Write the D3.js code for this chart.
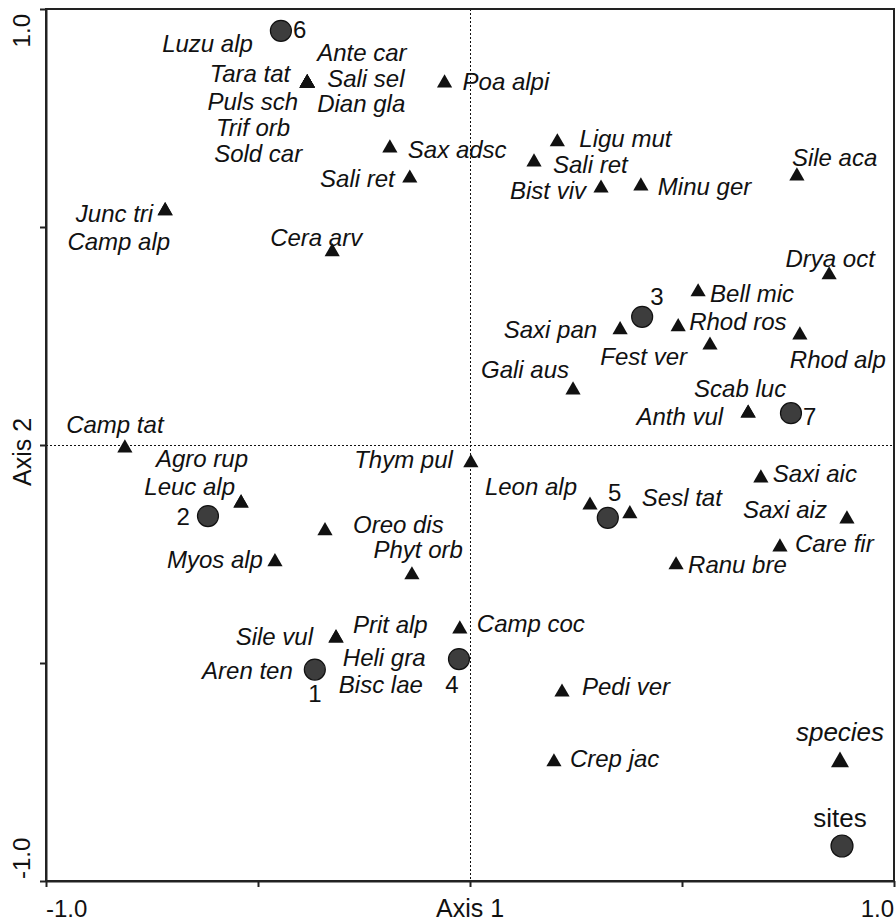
<!DOCTYPE html>
<html>
<head>
<meta charset="utf-8">
<script src="https://cdn.jsdelivr.net/npm/d3@7"></script>
<style>
  body { margin: 0; background: #fff; }
  svg text { font-family: "Liberation Sans", Arial, sans-serif; fill: #111; }
  .sp { font-style: italic; font-size: 24px; }
</style>
</head>
<body>
<div id="chart-area"></div>
<script>
// Site scores (axis 1, axis 2)
var siteIds = ["1", "2", "3", "4", "5", "6", "7"];
var siteX = [-0.366, -0.618, 0.406, -0.026, 0.325, -0.446, 0.757];
var siteY = [-0.515, -0.163, 0.294, -0.491, -0.167, 0.950, 0.073];

// Species scores (species sharing a point get the same scores)
var speciesNames = [
	"Tara tat", "Puls sch", "Trif orb", "Sold car", "Ante car", "Sali sel", "Dian gla",
	"Luzu alp", "Poa alpi", "Sax adsc", "Sali ret", "Ligu mut", "Sali ret", "Bist viv",
	"Minu ger", "Sile aca", "Junc tri", "Camp alp", "Cera arv", "Drya oct", "Bell mic",
	"Saxi pan", "Rhod ros", "Fest ver", "Rhod alp", "Gali aus", "Anth vul", "Scab luc",
	"Camp tat", "Thym pul", "Agro rup", "Leuc alp", "Oreo dis", "Myos alp", "Phyt orb",
	"Sile vul", "Prit alp", "Heli gra", "Bisc lae", "Aren ten", "Camp coc", "Pedi ver",
	"Crep jac", "Leon alp", "Sesl tat", "Saxi aic", "Saxi aiz", "Care fir", "Ranu bre"
];
var speciesX = [
	-0.384, -0.384, -0.384, -0.384, -0.384, -0.384, -0.384,
	-0.446, -0.060, -0.189, -0.142, 0.206, 0.151, 0.309,
	0.403, 0.771, -0.719, -0.719, -0.325, 0.847, 0.538,
	0.354, 0.491, 0.566, 0.778, 0.243, 0.656, 0.656,
	-0.814, 0.002, -0.540, -0.540, -0.342, -0.460, -0.137,
	-0.316, -0.316, -0.366, -0.366, -0.366, -0.024, 0.217,
	0.198, 0.283, 0.377, 0.686, 0.889, 0.731, 0.486
];
var speciesY = [
	0.830, 0.830, 0.830, 0.830, 0.830, 0.830, 0.830,
	0.950, 0.830, 0.681, 0.612, 0.695, 0.649, 0.589,
	0.594, 0.617, 0.537, 0.537, 0.443, 0.390, 0.351,
	0.264, 0.271, 0.229, 0.252, 0.126, 0.073, 0.073,
	-0.007, -0.041, -0.133, -0.133, -0.197, -0.268, -0.298,
	-0.443, -0.443, -0.515, -0.515, -0.515, -0.422, -0.567,
	-0.727, -0.138, -0.158, -0.076, -0.170, -0.234, -0.275
];

// label placement next to each point: [dx, dy, anchor]
var speciesLabelPos = [
	[-17, -1, "end"], [-9, 27, "end"], [-17, 53, "end"], [-5, 79, "end"], [10, -22, "start"], [20, 4, "start"], [10, 29, "start"],
	[-28, 21, "end"], [18, 7, "start"], [18, 10, "start"], [-15, 9, "end"], [22, 5, "start"], [19, 11, "start"], [-15, 11, "end"],
	[17, 9, "start"], [-5, -10, "start"], [-12, 11, "end"], [5, 39, "end"], [30, -6, "end"], [1, -8, "middle"], [12, 10, "start"],
	[-23, 8, "end"], [11, 3, "start"], [-23, 20, "end"], [-10, 33, "start"], [-4, -12, "end"], [-25, 12, "end"], [-8, -16, "middle"],
	[-10, -15, "middle"], [-18, 5, "end"], [7, -36, "end"], [-6, -8, "end"], [28, 2, "start"], [-12, 6, "end"], [51, -17, "end"],
	[-23, 7, "end"], [17, -5, "start"], [28, -4, "start"], [24, 23, "start"], [-22, 9, "end"], [17, 3, "start"], [20, 3, "start"],
	[16, 5, "start"], [-13, -10, "end"], [12, -8, "start"], [12, 4, "start"], [-20, -1, "end"], [15, 5, "start"], [12, 8, "start"]
];
var siteLabelPos = [
	[0, 32, "middle"], [-18, 9, "end"], [8, -12, "start"], [-7, 34, "middle"], [7, -17, "middle"], [12, 7, "start"], [12, 12, "start"]
];

var axisTicks = [-1, -0.5, 0, 0.5, 1];

var width = 896,
	height = 922;
var margin = {top: 9, right: 2, bottom: 41, left: 46};

var svg = d3.select("#chart-area").append("svg")
	.attr("width", width)
	.attr("height", height);

var x = d3.scaleLinear().domain([-1, 1]).range([margin.left, width - margin.right]);
var y = d3.scaleLinear().domain([-1, 1]).range([height - margin.bottom, margin.top]);

var species = speciesNames.map(function(n, i) {
	return {name: n, x: speciesX[i], y: speciesY[i], pos: speciesLabelPos[i]};
});
var sites = siteIds.map(function(n, i) {
	return {name: n, x: siteX[i], y: siteY[i], pos: siteLabelPos[i]};
});

// dotted zero lines
svg.append("line")
	.attr("x1", x(0) + 0.5).attr("x2", x(0) + 0.5)
	.attr("y1", y(1)).attr("y2", y(-1))
	.attr("stroke", "#111").attr("stroke-dasharray", "2,2");
svg.append("line")
	.attr("x1", x(-1)).attr("x2", x(1))
	.attr("y1", y(0) + 0.5).attr("y2", y(0) + 0.5)
	.attr("stroke", "#111").attr("stroke-dasharray", "2,2");

// frame
svg.append("rect")
	.attr("x", x(-1)).attr("y", y(1))
	.attr("width", x(1) - x(-1)).attr("height", y(-1) - y(1))
	.attr("fill", "none").attr("stroke", "#222").attr("stroke-width", 2);

var xAxis = d3.axisBottom(x).tickValues(axisTicks).tickFormat("").tickSizeInner(6).tickSizeOuter(0);
var yAxis = d3.axisLeft(y).tickValues(axisTicks).tickFormat("").tickSizeInner(6).tickSizeOuter(0);

svg.append("g")
	.attr("transform", "translate(0," + y(-1) + ")")
	.call(xAxis)
	.call(function(g) { g.select(".domain").attr("stroke", "#222").attr("stroke-width", 2); })
	.selectAll(".tick line").attr("stroke", "#222").attr("stroke-width", 2);
svg.append("g")
	.attr("transform", "translate(" + x(-1) + ",0)")
	.call(yAxis)
	.call(function(g) { g.select(".domain").attr("stroke", "#222").attr("stroke-width", 2); })
	.selectAll(".tick line").attr("stroke", "#222").attr("stroke-width", 2);

// axis texts
svg.append("text").attr("x", x(-1)).attr("y", 917).attr("font-size", 24).text("-1.0");
svg.append("text").attr("x", x(0)).attr("y", 917).attr("font-size", 25).attr("text-anchor", "middle").text("Axis 1");
svg.append("text").attr("x", x(1)).attr("y", 917).attr("font-size", 24).attr("text-anchor", "end").text("1.0");

svg.append("text").attr("transform", "translate(30," + (y(-1) - 2) + ") rotate(-90)")
	.attr("font-size", 24).text("-1.0");
svg.append("text").attr("transform", "translate(30," + (y(1) + 5) + ") rotate(-90)")
	.attr("font-size", 24).attr("text-anchor", "end").text("1.0");
svg.append("text").attr("transform", "translate(31," + (y(0) + 7) + ") rotate(-90)")
	.attr("font-size", 25).attr("text-anchor", "middle").text("Axis 2");

// species triangles
var tri = d3.symbol().type(d3.symbolTriangle).size(100);
svg.selectAll(".spt")
	.data(species)
	.enter()
	.append("path")
	.attr("class", "spt")
	.attr("d", tri)
	.attr("fill", "#111")
	.attr("transform", function(d) { return "translate(" + x(d.x) + "," + y(d.y) + ")"; });

svg.selectAll(".spl")
	.data(species)
	.enter()
	.append("text")
	.attr("class", "sp")
	.attr("x", function(d) { return x(d.x) + d.pos[0]; })
	.attr("y", function(d) { return y(d.y) + d.pos[1]; })
	.attr("text-anchor", function(d) { return d.pos[2]; })
	.text(function(d) { return d.name; });

// sites
svg.selectAll(".site")
	.data(sites)
	.enter()
	.append("circle")
	.attr("class", "site")
	.attr("r", 10.5)
	.attr("cx", function(d) { return x(d.x); })
	.attr("cy", function(d) { return y(d.y); })
	.attr("fill", "#3d3d3d")
	.attr("stroke", "#111")
	.attr("stroke-width", 1.2);

svg.selectAll(".sitel")
	.data(sites)
	.enter()
	.append("text")
	.attr("font-size", 24)
	.attr("x", function(d) { return x(d.x) + d.pos[0]; })
	.attr("y", function(d) { return y(d.y) + d.pos[1]; })
	.attr("text-anchor", function(d) { return d.pos[2]; })
	.text(function(d) { return d.name; });

// legend
var legend = svg.append("g").attr("transform", "translate(840,0)");
legend.append("text").attr("y", 741).attr("text-anchor", "middle")
	.attr("font-size", 26).attr("font-style", "italic").text("species");
legend.append("path").attr("d", d3.symbol().type(d3.symbolTriangle).size(140))
	.attr("transform", "translate(0,762)").attr("fill", "#111");
legend.append("text").attr("y", 827).attr("text-anchor", "middle")
	.attr("font-size", 26).text("sites");
legend.append("circle").attr("cx", 2).attr("cy", 846).attr("r", 11)
	.attr("fill", "#3d3d3d").attr("stroke", "#111").attr("stroke-width", 1.2);
</script>
</body>
</html>
